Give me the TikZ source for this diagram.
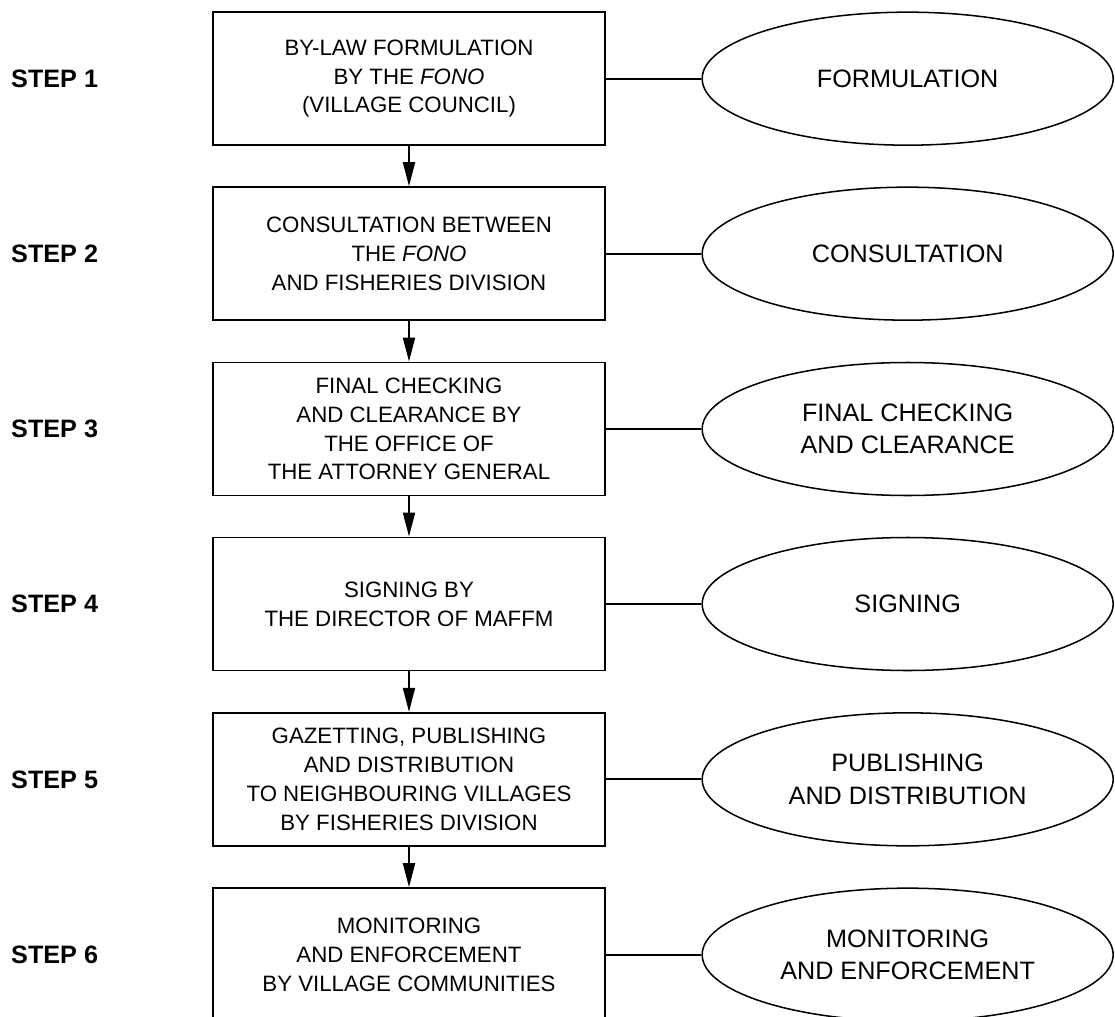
\documentclass[tikz,border=0pt]{standalone}
\usepackage{fontspec}
\setmainfont{Liberation Sans}
\usepackage{tikz}
\usetikzlibrary{arrows.meta,shapes.geometric}

\begin{document}
\begin{tikzpicture}[
            stepbox/.style={draw,line width=1.6pt,minimum width=11.76cm,minimum height=3.99cm,inner sep=0pt,align=center,font=\fontsize{19}{24.5}\selectfont},
            stage/.style={draw,ellipse,line width=1.3pt,minimum width=12.33cm,minimum height=3.99cm,inner sep=0pt,align=center,font=\fontsize{21.5}{27.5}\selectfont},
            steplabel/.style={anchor=west,inner sep=0pt,font=\bfseries\fontsize{21.5}{26}\selectfont},
            flow/.style={line width=1.6pt,-{Triangle[length=0.72cm,width=0.36cm]}},
            link/.style={line width=1.6pt}]
            \useasboundingbox (0,0) rectangle (33.45,-30.51);

            \node[steplabel] (s1) at (0.33,-2.36){STEP 1};
            \node[steplabel] (s2) at (0.33,-7.61){STEP 2};
            \node[steplabel] (s3) at (0.33,-12.87){STEP 3};
            \node[steplabel] (s4) at (0.33,-18.12){STEP 4};
            \node[steplabel] (s5) at (0.33,-23.38){STEP 5};
            \node[steplabel] (s6) at (0.33,-28.64){STEP 6};

            \node[stepbox] (b1) at (12.27,-2.36){BY-LAW FORMULATION\\BY THE \textit{FONO}\\(VILLAGE COUNCIL)};
            \node[stepbox] (b2) at (12.27,-7.61){CONSULTATION BETWEEN\\THE \textit{FONO}\\AND FISHERIES DIVISION};
            \node[stepbox] (b3) at (12.27,-12.87){FINAL CHECKING\\AND CLEARANCE BY\\THE OFFICE OF\\THE ATTORNEY GENERAL};
            \node[stepbox] (b4) at (12.27,-18.12){SIGNING BY\\THE DIRECTOR OF MAFFM};
            \node[stepbox] (b5) at (12.27,-23.38){GAZETTING, PUBLISHING\\AND DISTRIBUTION\\TO NEIGHBOURING VILLAGES\\BY FISHERIES DIVISION};
            \node[stepbox] (b6) at (12.27,-28.64){MONITORING\\AND ENFORCEMENT\\BY VILLAGE COMMUNITIES};

            \node[stage] (e1) at (27.23,-2.36){FORMULATION};
            \node[stage] (e2) at (27.23,-7.61){CONSULTATION};
            \node[stage] (e3) at (27.23,-12.87){FINAL CHECKING\\AND CLEARANCE};
            \node[stage] (e4) at (27.23,-18.12){SIGNING};
            \node[stage] (e5) at (27.23,-23.38){PUBLISHING\\AND DISTRIBUTION};
            \node[stage] (e6) at (27.23,-28.64){MONITORING\\AND ENFORCEMENT};

            \draw[flow] (b1) -- (b2);
            \draw[flow] (b2) -- (b3);
            \draw[flow] (b3) -- (b4);
            \draw[flow] (b4) -- (b5);
            \draw[flow] (b5) -- (b6);

            \draw[link] (b1) -- (e1);
            \draw[link] (b2) -- (e2);
            \draw[link] (b3) -- (e3);
            \draw[link] (b4) -- (e4);
            \draw[link] (b5) -- (e5);
            \draw[link] (b6) -- (e6);
          \end{tikzpicture}
\end{document}
